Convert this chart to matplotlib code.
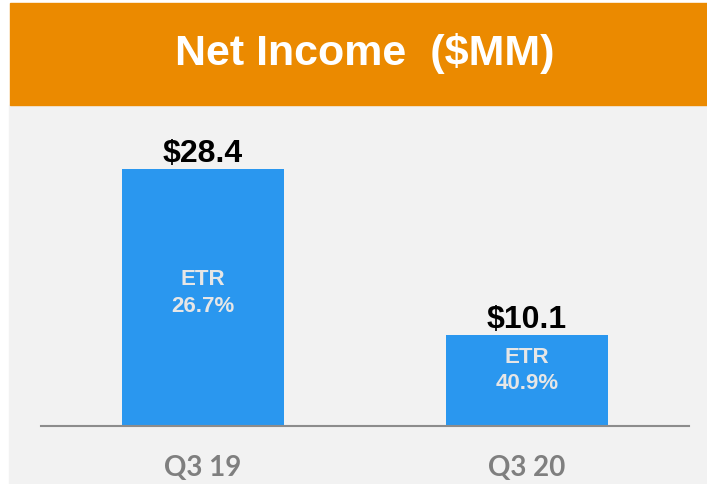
import matplotlib.pyplot as plt
from matplotlib.patches import Rectangle

quarters = ['Q3 19', 'Q3 20']
net_income = [28.4, 10.1]
etr = ['26.7%', '40.9%']

W, H = 707, 485
fig = plt.figure(figsize=(W / 100, H / 100), dpi=100)
fig.patch.set_facecolor('white')

# background panels (pixel coords -> figure fraction)
def px(x0, y0, x1, y1):
    return (x0 / W, 1 - y1 / H), (x1 - x0) / W, (y1 - y0) / H

xy, w, h = px(9, 106, W, H)
fig.patches.append(Rectangle(xy, w, h, transform=fig.transFigure, color='#f2f2f2', zorder=-10))
xy, w, h = px(10, 4, W, 106)
fig.patches.append(Rectangle(xy, w, h, transform=fig.transFigure, color='#eb8a00', zorder=-10))

fig.text(365 / W, 1 - 53 / H, 'Net Income  ($MM)', color='white',
         fontsize=31, fontweight='bold', family='Liberation Sans',
         ha='center', va='center')

# axes: bottom at y=427, x from 41 to 689, top at 110
ax = fig.add_axes([41 / W, 1 - 427 / H, (689 - 41) / W, (427 - 110) / H])
ax.set_facecolor('none')
x = range(len(quarters))
bars = ax.bar(x, net_income, width=0.5, color='#2a97ef', zorder=2)
ax.set_xlim(-0.5, 1.5)
ymax = 28.4 * 317 / 257
ax.set_ylim(0, ymax)

for s in ['top', 'left', 'right']:
    ax.spines[s].set_visible(False)
ax.spines['bottom'].set_color('#8c8c8c')
ax.spines['bottom'].set_linewidth(1.5)
ax.set_yticks([])
ax.set_xticks(list(x))
ax.set_xticklabels(quarters, fontsize=20, fontweight='bold', color='#7f7f7f', family='Lato')
ax.tick_params(axis='x', length=0, pad=20)

for b, v in zip(bars, net_income):
    cx = b.get_x() + b.get_width() / 2
    ax.annotate(f'${v}', (cx, v), xytext=(0, 0.5), textcoords='offset points',
                ha='center', va='bottom', fontsize=23, fontweight='bold',
                family='Liberation Sans', color='black')

# ETR labels, two lines inside each bar (pixel rows from the reference)
etr_y = [(280, 307), (358, 384)]
for i, e in enumerate(etr):
    for txt, ypx in zip(['ETR', e], etr_y[i]):
        y_data = (427 - ypx) / 317 * ymax
        ax.text(i, y_data, txt, ha='center', va='center', fontsize=16,
                fontweight='bold', family='Liberation Sans', color='#e6e6e6', zorder=3)

fig.savefig('out.png', dpi=100)
